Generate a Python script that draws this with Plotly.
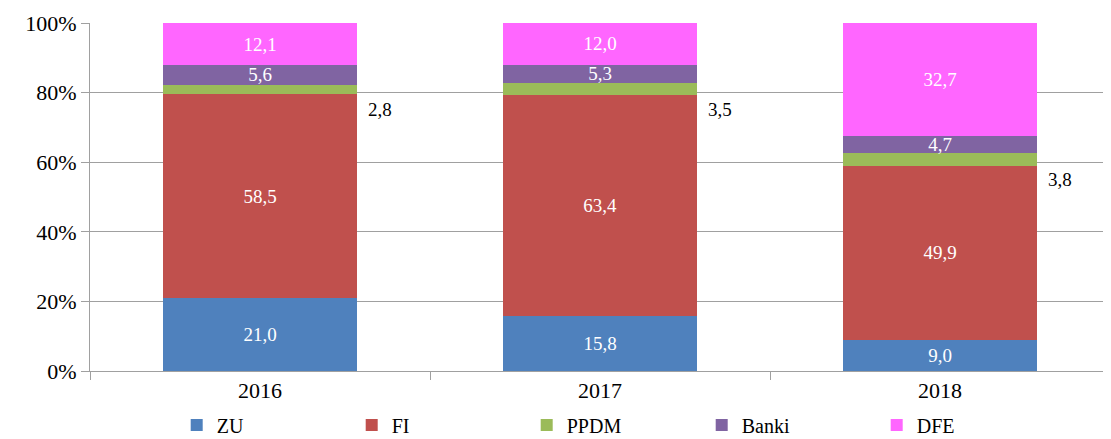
import plotly.graph_objects as go

years = ["2016", "2017", "2018"]
zu = [21.0, 15.8, 9.0]
fi = [58.5, 63.4, 49.9]
ppdm = [2.8, 3.5, 3.8]
banki = [5.6, 5.3, 4.7]
dfe = [12.1, 12.0, 32.7]

SERIES = [
    ("ZU", zu, "#4F81BD"),
    ("FI", fi, "#C0504D"),
    ("PPDM", ppdm, "#9BBB59"),
    ("Banki", banki, "#8064A2"),
    ("DFE", dfe, "#FF66FF"),
]

FONT = "Liberation Serif, Times New Roman, serif"


def fmt(v):
    return f"{v:.1f}".replace(".", ",")


fig = go.Figure()
for name, vals, color in SERIES:
    inside = name != "PPDM"  # PPDM labels sit outside, to the right
    fig.add_trace(
        go.Bar(
            x=years,
            y=vals,
            name=name,
            marker=dict(color=color, line=dict(width=0)),
            text=[fmt(v) for v in vals] if inside else None,
            textposition="inside" if inside else "none",
            insidetextanchor="middle",
            textangle=0,
            textfont=dict(color="white", size=19, family=FONT),
            hoverinfo="name+y",
        )
    )

# outside labels for PPDM, placed beside the bar (x given as category index,
# numeric-looking strings would be read as coordinates)
for i in range(len(years)):
    base = zu[i] + fi[i] + ppdm[i] / 2
    fig.add_annotation(
        x=i, y=base, text=fmt(ppdm[i]), showarrow=False,
        xshift=120, yshift=-20, font=dict(size=19, color="black", family=FONT),
    )

# page body has an 8px margin, so the margins are offset to compensate
fig.update_layout(
    barmode="stack",
    bargap=0.43,
    width=1111,
    height=439,
    margin=dict(l=82, r=9, t=15, b=76, autoexpand=False),
    plot_bgcolor="white",
    paper_bgcolor="white",
    font=dict(family=FONT, size=20, color="black"),
    uniformtext=dict(minsize=19, mode="show"),
    legend=dict(
        orientation="h",
        x=0.085, xanchor="left",
        y=-0.155, yanchor="middle",
        entrywidth=130,
        font=dict(size=20, family=FONT),
        traceorder="normal",
        itemclick=False,
    ),
    showlegend=True,
)
fig.update_yaxes(
    range=[0, 100],
    dtick=20,
    ticksuffix="%",
    showgrid=True,
    gridcolor="#A0A0A0",
    gridwidth=1,
    showline=True,
    linecolor="#A0A0A0",
    ticks="outside",
    ticklen=8,
    tickcolor="#A0A0A0",
    tickfont=dict(size=22),
    zeroline=False,
    automargin=False,
)
fig.update_xaxes(
    type="category",
    range=[-0.5, len(years) - 0.5],
    showline=True,
    linecolor="#A0A0A0",
    ticks="outside",
    tickson="boundaries",
    ticklen=8,
    tickcolor="#A0A0A0",
    tickfont=dict(size=22),
    automargin=False,
)

fig.write_html("out.html")
